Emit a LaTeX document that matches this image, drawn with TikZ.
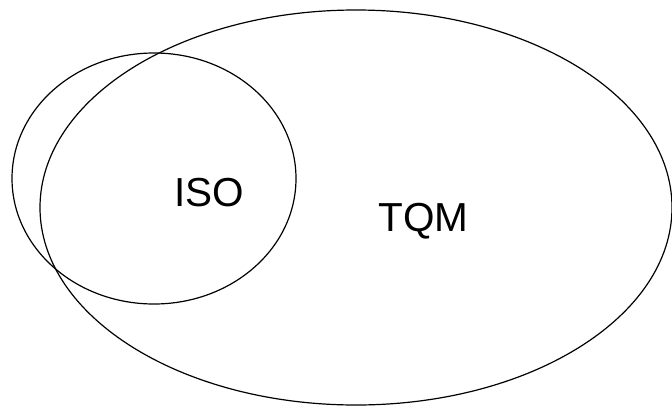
\documentclass[tikz,border=0pt]{standalone}
\usepackage{fontspec}
\setmainfont{Liberation Sans}
\begin{document}
\begin{tikzpicture}[x=1pt,y=-1pt,
  ring/.style={draw=black,line width=1.2pt},
  lbl/.style={font=\fontsize{40.5}{46}\selectfont,inner sep=0pt,anchor=base}]
\useasboundingbox (0,0) rectangle (672,407);
\clip (0,0) rectangle (672,407);
% large set
\draw[ring] (356,207.5) ellipse [x radius=316, y radius=197.5];
% small set
\draw[ring] (154,178.5) ellipse [x radius=142, y radius=125.5];
\node[lbl] (iso) at (209,206.5) {ISO};
\node[lbl] (tqm) at (423.5,231) {TQM};
\end{tikzpicture}
\end{document}
